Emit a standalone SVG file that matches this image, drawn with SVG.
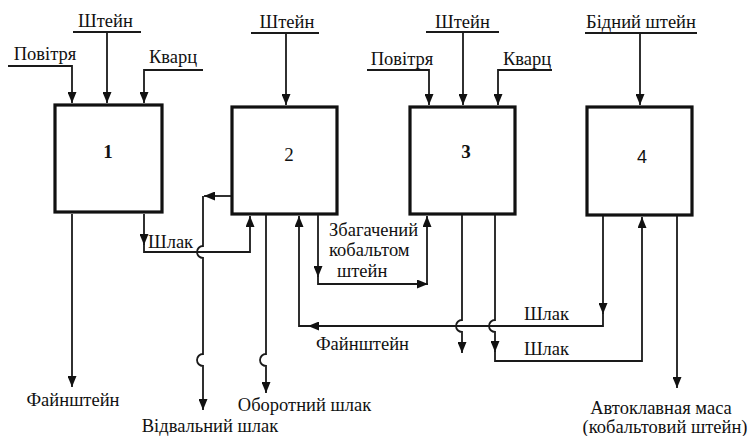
<svg xmlns="http://www.w3.org/2000/svg" width="751" height="436" viewBox="0 0 751 436">
<defs>
<marker id="ah" viewBox="0 0 10 10" refX="10" refY="5" markerWidth="11" markerHeight="9" markerUnits="userSpaceOnUse" orient="auto" preserveAspectRatio="none">
<path d="M0,0 L10,5 L0,10 z" fill="#111"/>
</marker>
<style>
.box{fill:#fff;stroke:#111;stroke-width:3.2}
.ln{fill:none;stroke:#1a1a1a;stroke-width:1.8}
.ar{fill:none;stroke:#1a1a1a;stroke-width:1.8;marker-end:url(#ah)}
</style>
</defs>
<rect width="751" height="436" fill="#fff"/>
<g id="node1"><rect class="box" x="55" y="105" width="107" height="107"/><text x="108" y="158" text-anchor="middle" style="font-family:'Liberation Serif',serif;font-size:19px;font-weight:bold" fill="#111">1</text></g>
<g id="node2"><rect class="box" x="232" y="107" width="105" height="107"/><text x="289" y="161" text-anchor="middle" style="font-family:'Liberation Serif',serif;font-size:19px" fill="#111">2</text></g>
<g id="node3"><rect class="box" x="410" y="107" width="105" height="107"/><text x="466" y="158" text-anchor="middle" style="font-family:'Liberation Serif',serif;font-size:19px;font-weight:bold" fill="#111">3</text></g>
<g id="node4"><rect class="box" x="587" y="107" width="105" height="108"/><text x="642" y="163" text-anchor="middle" style="font-family:'Liberation Sans',sans-serif;font-size:18px" fill="#111">4</text></g>
<g id="connectors">
<path class="ln" d="M73,32 H141"/>
<path class="ar" d="M107,32 V103"/>
<path class="ar" d="M8,66 H72 V103"/>
<path class="ar" d="M203,70 H144 V103"/>
<path class="ln" d="M251,33 H319"/>
<path class="ar" d="M286,33 V105"/>
<path class="ln" d="M426,32 H499"/>
<path class="ar" d="M463,32 V105"/>
<path class="ar" d="M367,70 H429 V105"/>
<path class="ar" d="M552,70 H498 V105"/>
<path class="ln" d="M585,33 H697"/>
<path class="ar" d="M640,33 V105"/>
<path class="ar" d="M72,214 V387"/>
<path class="ar" d="M144,214 V245"/>
<path class="ar" d="M144,244 V252 H250 V216"/>
<path class="ar" d="M231,196 H204"/>
<path class="ar" d="M203,196 V246 A6,6 0 0 0 203,258 V354 A6,6 0 0 0 203,366 V410"/>
<path class="ar" d="M266,215 V354 A6,6 0 0 0 266,366 V393"/>
<path class="ar" d="M318,215 V277"/>
<path class="ar" d="M318,276 V284 H428"/>
<path class="ar" d="M427,284 V216"/>
<path class="ar" d="M603,216 V314"/>
<path class="ar" d="M603,313 V326 H308"/>
<path class="ar" d="M310,326 H299 V216"/>
<path class="ar" d="M462,215 V320 A6,6 0 0 0 462,332 V353"/>
<path class="ar" d="M495,215 V320 A6,6 0 0 0 495,332 V352"/>
<path class="ar" d="M495,351 V361 H642 V217"/>
<path class="ar" d="M677,216 V388"/>
</g>
<g id="labels" fill="#111">
<text x="105.5" y="27" text-anchor="middle" style="font-family:'Liberation Serif',serif;font-size:18.5px">Штейн</text>
<text x="45" y="60" text-anchor="middle" style="font-family:'Liberation Serif',serif;font-size:18.5px">Повітря</text>
<text x="173" y="63" text-anchor="middle" style="font-family:'Liberation Serif',serif;font-size:18.5px">Кварц</text>
<text x="287" y="28" text-anchor="middle" style="font-family:'Liberation Serif',serif;font-size:18.5px">Штейн</text>
<text x="462.5" y="28" text-anchor="middle" style="font-family:'Liberation Serif',serif;font-size:18.5px">Штейн</text>
<text x="402" y="65" text-anchor="middle" style="font-family:'Liberation Serif',serif;font-size:18.5px">Повітря</text>
<text x="527" y="65" text-anchor="middle" style="font-family:'Liberation Serif',serif;font-size:18.5px">Кварц</text>
<text x="641" y="28" text-anchor="middle" style="font-family:'Liberation Serif',serif;font-size:18.5px">Бідний штейн</text>
<text x="73" y="406" text-anchor="middle" style="font-family:'Liberation Serif',serif;font-size:18.5px">Файнштейн</text>
<text x="148" y="248" style="font-family:'Liberation Serif',serif;font-size:18.5px">Шлак</text>
<text x="210" y="432" text-anchor="middle" style="font-family:'Liberation Serif',serif;font-size:18.5px">Відвальний шлак</text>
<text x="304.5" y="411" text-anchor="middle" style="font-family:'Liberation Serif',serif;font-size:18.5px">Оборотний шлак</text>
<text x="329" y="236" style="font-family:'Liberation Serif',serif;font-size:18.5px">Збагачений</text>
<text x="329" y="256" style="font-family:'Liberation Serif',serif;font-size:18.5px">кобальтом</text>
<text x="337" y="277" style="font-family:'Liberation Serif',serif;font-size:18.5px">штейн</text>
<text x="362.5" y="350" text-anchor="middle" style="font-family:'Liberation Serif',serif;font-size:18.5px">Файнштейн</text>
<text x="546.5" y="320" text-anchor="middle" style="font-family:'Liberation Serif',serif;font-size:18.5px">Шлак</text>
<text x="546.5" y="355" text-anchor="middle" style="font-family:'Liberation Serif',serif;font-size:18.5px">Шлак</text>
<text x="661" y="414" text-anchor="middle" style="font-family:'Liberation Serif',serif;font-size:18.5px">Автоклавная маса</text>
<text x="665" y="433" text-anchor="middle" style="font-family:'Liberation Serif',serif;font-size:18.5px">(кобальтовий штейн)</text>
</g>
</svg>
